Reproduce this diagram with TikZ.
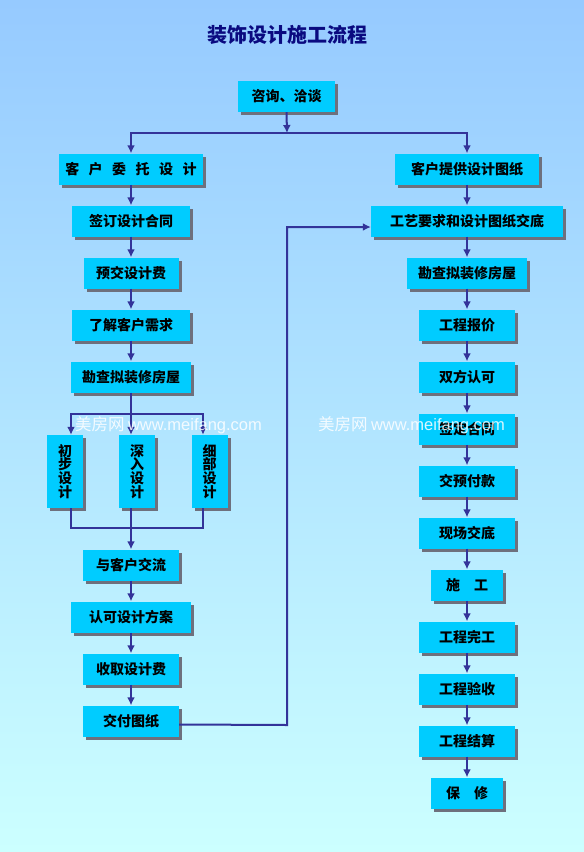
\documentclass[tikz,border=0pt]{standalone}
\usepackage{fontspec}
\newfontfamily\cjk{Noto Sans CJK SC}
\newfontfamily\wmfont{Liberation Sans}
\usetikzlibrary{arrows.meta,shadows}
\definecolor{bgtop}{RGB}{150,202,255}
\definecolor{bgbot}{RGB}{204,255,255}
\definecolor{boxc}{RGB}{0,204,255}
\definecolor{linec}{RGB}{51,51,153}
\definecolor{titlec}{RGB}{10,10,128}
\definecolor{shadc}{RGB}{110,112,125}
\tikzset{
  box/.style={fill=boxc, inner sep=0pt, minimum height=31pt,
    font=\cjk\bfseries\fontsize{14pt}{16pt}\selectfont,
    general shadow={fill=shadc, shadow xshift=3pt, shadow yshift=-3pt}},
  vbox/.style={box, minimum width=36pt, minimum height=73pt, align=center,
    font=\cjk\bfseries\fontsize{14pt}{13.8pt}\selectfont},
  link/.style={draw=linec, line width=2pt},
  arr/.style={link, -{Latex[length=8pt,width=8pt]}},
  wm/.style={text=white, opacity=0.85, inner sep=0pt, anchor=west}
}
\begin{document}
\begin{tikzpicture}[x=1pt,y=-1pt]
\shade[top color=bgtop, bottom color=bgbot] (0,0) rectangle (584,852);
\useasboundingbox (0,0) rectangle (584,852);
\node[text=titlec, font=\cjk\bfseries\fontsize{20pt}{24pt}\selectfont] (title) at (287,35) {装饰设计施工流程};
\node[box, minimum width=97pt] (zx) at (286.5,96.5) {咨询、洽谈};
% left column
\node[box, minimum width=144pt] (wt) at (131,169) {客\hspace{9.5pt}户\hspace{9.5pt}委\hspace{9.5pt}托\hspace{9.5pt}设\hspace{9.5pt}计};
\node[box, minimum width=118pt] (qd) at (131,221) {签订设计合同};
\node[box, minimum width=95pt] (yj) at (131,273) {预交设计费};
\node[box, minimum width=118pt] (lj) at (131,325) {了解客户需求};
\node[box, minimum width=120pt] (kc1) at (131,377) {勘查拟装修房屋};
\node[vbox] (cb) at (65,471.5) {初\\步\\设\\计};
\node[vbox] (sr) at (137,471.5) {深\\入\\设\\计};
\node[vbox] (xb) at (209.5,471.5) {细\\部\\设\\计};
\node[box, minimum width=96pt] (ydkj) at (131,565) {与客户交流};
\node[box, minimum width=120pt] (rk) at (131,617) {认可设计方案};
\node[box, minimum width=96pt] (sq) at (131,669) {收取设计费};
\node[box, minimum width=96pt] (jf) at (131,721) {交付图纸};
% right column
\node[box, minimum width=144pt] (tg) at (467,169) {客户提供设计图纸};
\node[box, minimum width=192pt] (gy) at (467,221) {工艺要求和设计图纸交底};
\node[box, minimum width=120pt] (kc2) at (467,273) {勘查拟装修房屋};
\node[box, minimum width=96pt] (bj) at (467,325) {工程报价};
\node[box, minimum width=96pt] (sf) at (467,377) {双方认可};
\node[box, minimum width=96pt] (ht) at (467,429) {签定合同};
\node[box, minimum width=96pt] (yf) at (467,481) {交预付款};
\node[box, minimum width=96pt] (xc) at (467,533) {现场交底};
\node[box, minimum width=72pt] (sg) at (467,585) {施\hspace{1em}工};
\node[box, minimum width=96pt] (wg) at (467,637) {工程完工};
\node[box, minimum width=96pt] (ys) at (467,689) {工程验收};
\node[box, minimum width=96pt] (js) at (467,741) {工程结算};
\node[box, minimum width=72pt] (bx) at (467,793) {保\hspace{1em}修};
% top split
\coordinate (top) at (287,133);
\draw[arr] (zx.south) -- (top);
\draw[arr] (top) -| (wt.north);
\draw[arr] (top) -| (tg.north);
% left chain
\draw[arr] (wt.south) -- (qd.north);
\draw[arr] (qd.south) -- (yj.north);
\draw[arr] (yj.south) -- (lj.north);
\draw[arr] (lj.south) -- (kc1.north);
\coordinate (bm) at (131,414);
\coordinate (bl) at (71,414);
\coordinate (br) at (203,414);
\draw[arr] (kc1.south) -- (bm |- sr.north);
\draw[arr] (bm) -| (bl |- cb.north);
\draw[arr] (bm) -| (br |- xb.north);
\coordinate (mm) at (131,528);
\draw[link] (bl |- cb.south) |- (mm);
\draw[link] (br |- xb.south) |- (mm);
\draw[arr] (bm |- sr.south) -- (ydkj.north);
\draw[arr] (ydkj.south) -- (rk.north);
\draw[arr] (rk.south) -- (sq.north);
\draw[arr] (sq.south) -- (jf.north);
\coordinate (lpb) at (287,725);
\coordinate (lpt) at (287,227);
\draw[arr] ([yshift=-3.5pt]jf.east) -- (lpb) -- (lpt) -- (gy.west |- lpt);
% right chain
\draw[arr] (tg.south) -- (gy.north);
\draw[arr] (gy.south) -- (kc2.north);
\draw[arr] (kc2.south) -- (bj.north);
\draw[arr] (bj.south) -- (sf.north);
\draw[arr] (sf.south) -- (ht.north);
\draw[arr] (ht.south) -- (yf.north);
\draw[arr] (yf.south) -- (xc.north);
\draw[arr] (xc.south) -- (sg.north);
\draw[arr] (sg.south) -- (wg.north);
\draw[arr] (wg.south) -- (ys.north);
\draw[arr] (ys.south) -- (js.north);
\draw[arr] (js.south) -- (bx.north);
% watermarks
\node[wm] (wm1) at (75,425) {{\cjk\fontsize{16.5pt}{18pt}\selectfont 美房网} {\wmfont\fontsize{16.5pt}{18pt}\selectfont www.meifang.com}};
\node[wm] (wm2) at (318,425) {{\cjk\fontsize{16.5pt}{18pt}\selectfont 美房网} {\wmfont\fontsize{16.5pt}{18pt}\selectfont www.meifang.com}};
\end{tikzpicture}
\end{document}
